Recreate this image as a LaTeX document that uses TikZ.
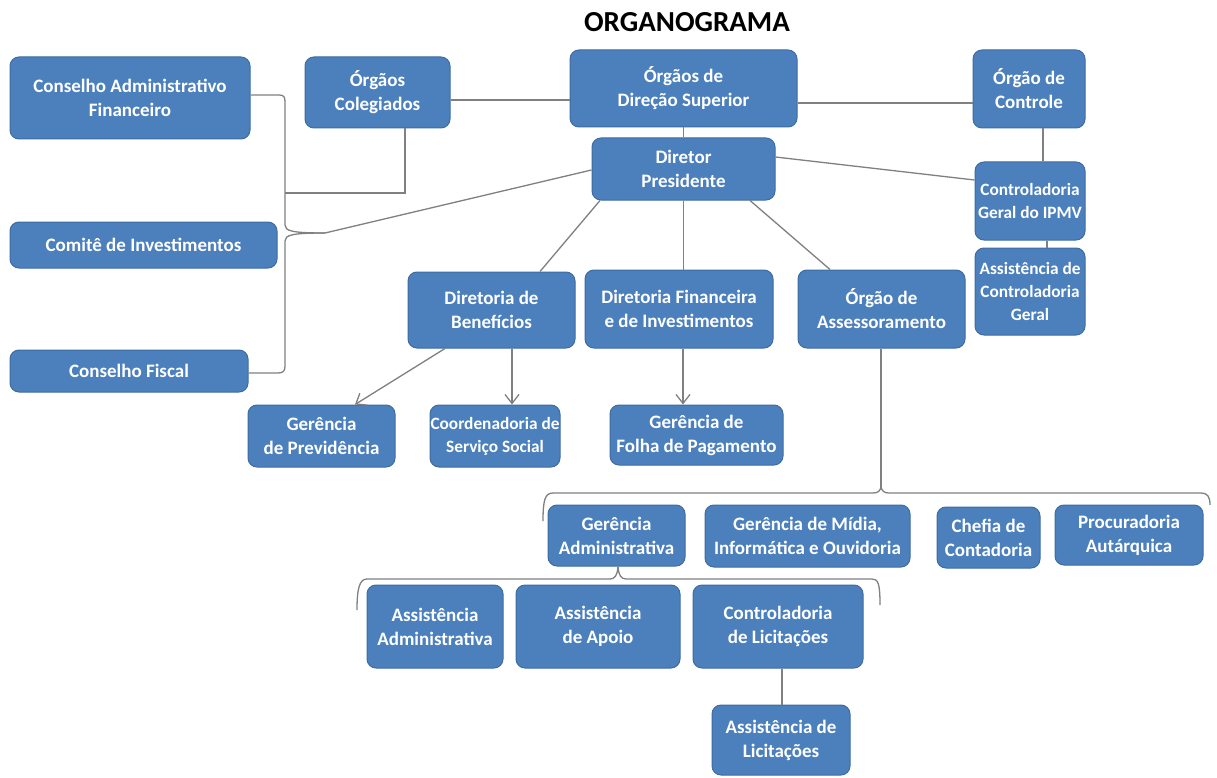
\documentclass[tikz,border=0pt]{standalone}
\usepackage{fontspec}
\setmainfont{Carlito}
\usetikzlibrary{arrows.meta,calc}
\definecolor{boxblue}{RGB}{76,128,189}
\definecolor{boxborder}{RGB}{62,108,160}
\definecolor{linegray}{RGB}{128,128,128}
\begin{document}
\begin{tikzpicture}[x=1pt,y=-1pt,
  box/.style={draw=boxborder, line width=1pt, fill=boxblue, rounded corners=9pt, text=white,
    font=\bfseries\fontsize{19}{24}\selectfont, align=center, inner sep=0pt},
  small/.style={font=\bfseries\fontsize{17.3}{23}\selectfont},
  conn/.style={draw=linegray, line width=1.3pt},
  arr/.style={conn, -{Straight Barb[length=9pt,width=14pt,line width=1.3pt]}}]
\useasboundingbox (0,0) rectangle (1217,778);
\fill[white] (0,0) rectangle (1217,778);

\node[font=\bfseries\fontsize{29}{32}\selectfont] (title) at (687,22) {ORGANOGRAMA};

% nodes
\node[box, minimum width=240pt, minimum height=82pt] (caf) at (130,98) {Conselho Administrativo\\Financeiro};
\node[box, minimum width=145pt, minimum height=71pt] (col) at (377.5,92.5) {Órgãos\\Colegiados};
\node[box, minimum width=267pt, minimum height=46pt] (ci) at (143.5,245) {Comitê de Investimentos};
\node[box, minimum width=238pt, minimum height=42pt] (cf) at (129,371) {Conselho Fiscal};
\node[box, minimum width=227pt, minimum height=77pt] (ds) at (683.5,88.5) {Órgãos de\\Direção Superior};
\node[box, minimum width=112pt, minimum height=78pt] (oc) at (1029,89) {Órgão de\\Controle};
\node[box, minimum width=183pt, minimum height=62pt] (dp) at (683.5,169) {Diretor\\Presidente};
\node[box, small, minimum width=110pt, minimum height=78pt] (cg) at (1030,201) {Controladoria\\Geral do IPMV};
\node[box, small, minimum width=110pt, minimum height=87pt] (acg) at (1030,291.5) {Assistência de\\Controladoria\\Geral};
\node[box, minimum width=167pt, minimum height=76pt] (db) at (491.5,310) {Diretoria de\\Benefícios};
\node[box, minimum width=188pt, minimum height=78pt] (df) at (679,309) {Diretoria Financeira\\e de Investimentos};
\node[box, minimum width=167pt, minimum height=78pt] (oa) at (881.5,309) {Órgão de\\Assessoramento};
\node[box, minimum width=147pt, minimum height=62pt] (gp) at (321.5,436) {Gerência\\de Previdência};
\node[box, small, minimum width=130pt, minimum height=62pt] (css) at (495,436) {Coordenadoria de\\Serviço Social};
\node[box, minimum width=173pt, minimum height=60pt] (gf) at (696.5,435) {Gerência de\\Folha de Pagamento};
\node[box, minimum width=137pt, minimum height=61pt] (ga) at (616.5,535.5) {Gerência\\Administrativa};
\node[box, minimum width=205pt, minimum height=62pt] (gm) at (807.5,536) {Gerência de Mídia,\\Informática e Ouvidoria};
\node[box, minimum width=103pt, minimum height=61pt] (chc) at (988.5,537.5) {Chefia de\\Contadoria};
\node[box, minimum width=148pt, minimum height=60pt] (pa) at (1129,535) {Procuradoria\\Autárquica};
\node[box, minimum width=136pt, minimum height=83pt] (aa) at (435,626.5) {Assistência\\Administrativa};
\node[box, minimum width=164pt, minimum height=83pt] (aap) at (598,626.5) {Assistência\\de Apoio};
\node[box, minimum width=170pt, minimum height=83pt] (cl) at (778,626.5) {Controladoria\\de Licitações};
\node[box, minimum width=138pt, minimum height=70pt] (al) at (781,740) {Assistência de\\Licitações};

% top connectors
\draw[conn] (col.east |- 0,100) -- (ds.west |- 0,100);
\draw[conn] (ds.east |- 0,103) -- (oc.west |- 0,103);
\draw[conn] (ds.south) -- (dp.north);
\draw[conn] (oc.south -| 1043,0) -- (cg.north -| 1043,0);
\draw[conn] (cg.south -| 1047,0) -- (acg.north -| 1047,0);
\draw[conn] (dp.east |- 0,157) -- (cg.west |- 0,180);

% left brace
\coordinate (ltip) at (325,233);
\draw[conn] (caf.east |- 0,95) -- (279,95) .. controls (284,95) and (285,97) .. (285,102)
  -- (285,225) .. controls (285,231) and (292,233) .. (ltip);
\draw[conn] (ltip) .. controls (292,233) and (285,235) .. (285,241)
  -- (285,366) .. controls (285,371) and (283,373) .. (278,373) -- (cf.east |- 0,373);
\draw[conn] (285,193) -- (405,193) -- (col.south -| 405,0);
\draw[conn] (ltip) -- (dp.west |- 0,170);

% director to directorates
\draw[conn] (dp.south -| 600,0) -- (db.north -| 540,0);
\draw[conn] (dp.south) -- (dp.south |- df.north);
\draw[conn] (dp.south -| 750,0) -- (oa.north -| 830,0);

% arrows
\draw[arr] (db.south -| 445,0) -- (gp.north -| 355,0);
\draw[arr] (db.south -| 512,0) -- (css.north -| 512,0);
\draw[arr] (df.south -| 683,0) -- (gf.north -| 683,0);

% assessoramento brace
\coordinate (atip) at (881,487);
\draw[conn] (oa.south -| 881,0) -- (atip);
\draw[conn] (543,521) .. controls (543,500) and (545,493) .. (553,493) -- (873,493)
  .. controls (878,493) and (880,491) .. (atip);
\draw[conn] (atip) .. controls (882,491) and (884,493) .. (889,493) -- (1201,493)
  .. controls (1207,493) and (1210,496) .. (1210,505);

% gerencia administrativa brace
\coordinate (gtip) at (618,568);
\draw[conn] (ga.south -| 618,0) -- (gtip);
\draw[conn] (357,610) .. controls (357,590) and (359,579) .. (367,579) -- (610,579)
  .. controls (615,579) and (617,575) .. (gtip);
\draw[conn] (gtip) .. controls (619,575) and (621,579) .. (626,579) -- (872,579)
  .. controls (878,579) and (880,583) .. (880,605);

\draw[conn] (cl.south -| 782,0) -- (al.north -| 782,0);
\end{tikzpicture}
\end{document}
